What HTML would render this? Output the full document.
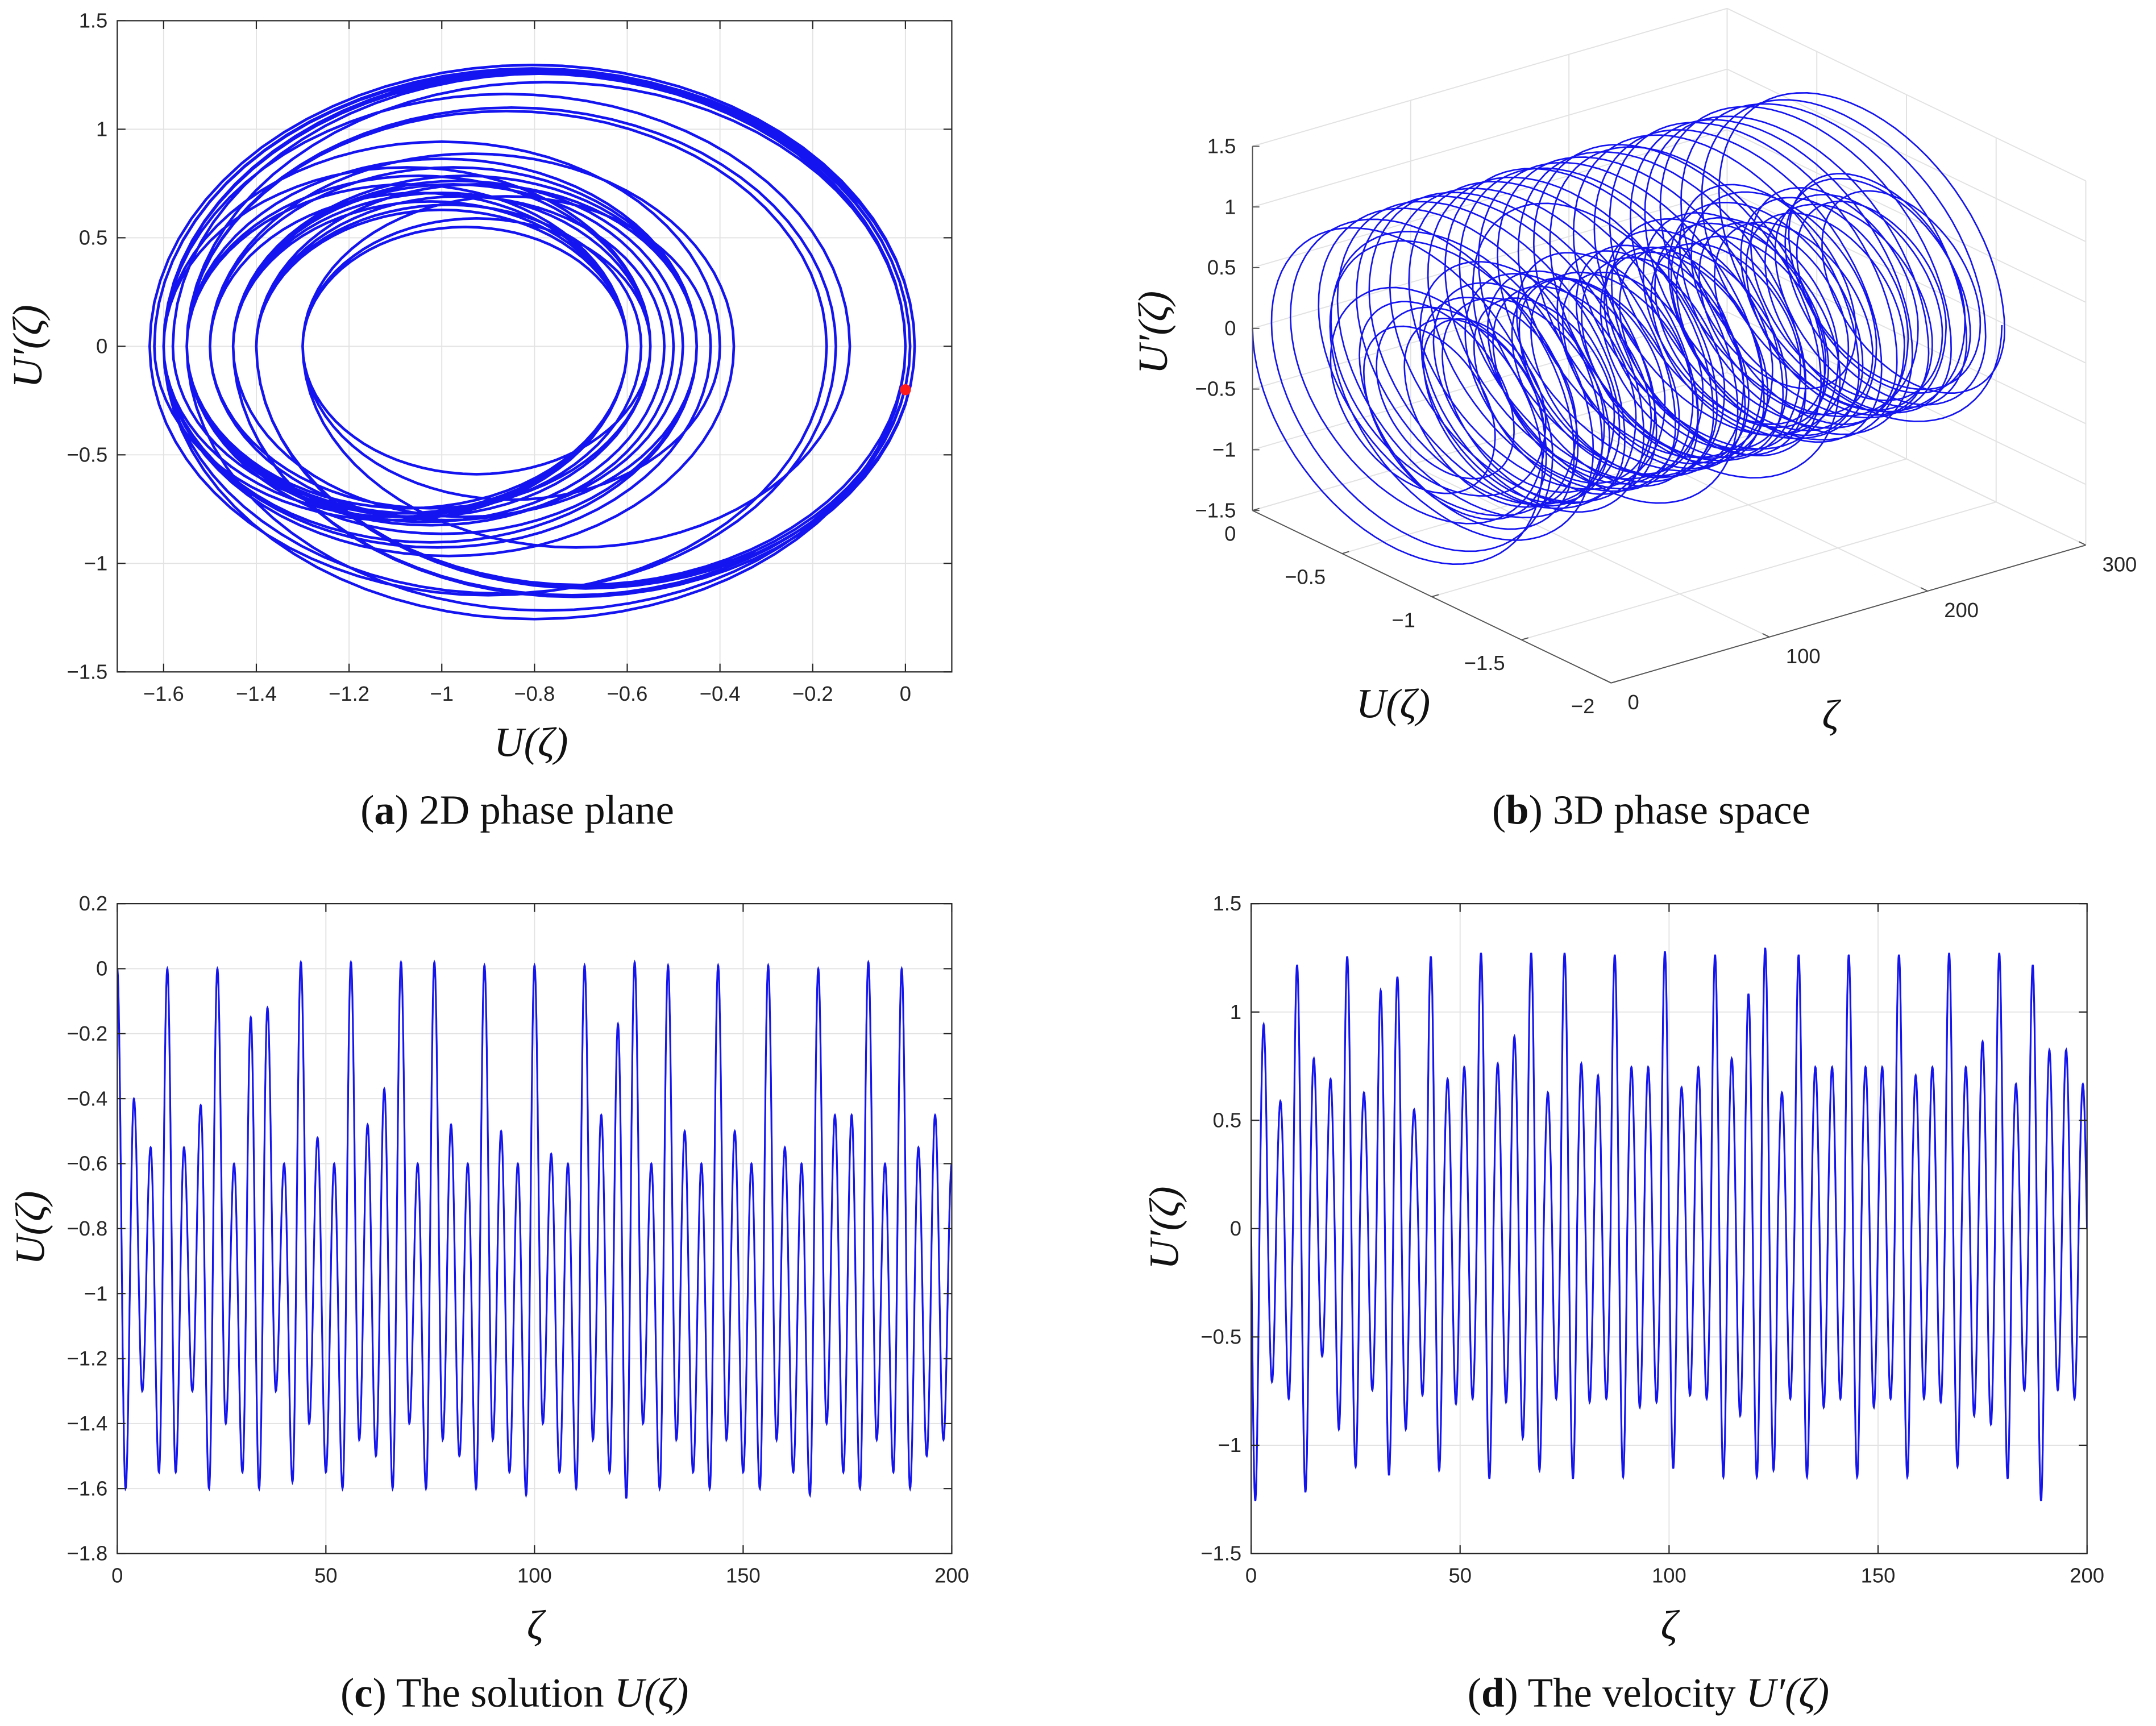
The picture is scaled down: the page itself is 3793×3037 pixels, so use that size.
<!DOCTYPE html>
<html><head><meta charset="utf-8">
<style>
html,body{margin:0;padding:0;background:#fff;}
svg{display:block;}
.tk{font-family:"Liberation Sans",sans-serif;font-size:15px;fill:#262626;}
.lb{font-family:"Liberation Serif",serif;font-style:italic;font-size:30px;fill:#111;}
.cap{font-family:"Liberation Serif",serif;font-size:30px;fill:#111;}
</style></head>
<body>
<svg id="fig" width="3793" height="3037" viewBox="0 0 1563 1251" preserveAspectRatio="none" xmlns="http://www.w3.org/2000/svg">
<defs>
<clipPath id="clipA"><rect x="85" y="15" width="605" height="472"/></clipPath>
<clipPath id="clipC"><rect x="85" y="655" width="605" height="471"/></clipPath>
<clipPath id="clipD"><rect x="907" y="655" width="606" height="471"/></clipPath>
</defs>
</svg>
<script>
// ---- data: extrema of U(zeta); spacing 2 units of zeta between extrema
const startValue = 0;
const uMaxima = [-0.4,-0.55,0.0,-0.55,-0.42,0.0,-0.6,-0.15,-0.12,-0.6,0.02,-0.52,-0.6,0.02,-0.48,-0.37,0.02,-0.6,0.02,-0.48,-0.6,0.01,-0.5,-0.6,0.01,-0.57,-0.6,0.01,-0.45,-0.17,0.02,-0.6,0.01,-0.5,-0.6,0.01,-0.5,-0.6,0.01,-0.55,-0.6,0.0,-0.45,-0.45,0.02,-0.6,0.0,-0.55,-0.45,
 -0.6,0.01,-0.5,-0.45,0.0,-0.55,-0.6,0.02,-0.4,-0.3,0.01,-0.6,0.0,-0.5,-0.6,0.02,-0.45,-0.55,0.01,-0.6,-0.5,0.0,-0.45,-0.6,0.01];
const uMinima = [-1.6,-1.3,-1.55,-1.55,-1.3,-1.6,-1.4,-1.55,-1.6,-1.3,-1.58,-1.4,-1.55,-1.6,-1.45,-1.5,-1.6,-1.4,-1.6,-1.45,-1.5,-1.6,-1.45,-1.55,-1.62,-1.4,-1.55,-1.6,-1.45,-1.55,-1.63,-1.4,-1.6,-1.45,-1.55,-1.6,-1.45,-1.55,-1.6,-1.45,-1.55,-1.62,-1.4,-1.55,-1.6,-1.45,-1.55,-1.6,-1.5,-1.45,
 -1.6,-1.45,-1.55,-1.62,-1.4,-1.5,-1.6,-1.45,-1.3,-1.58,-1.5,-1.6,-1.45,-1.55,-1.62,-1.4,-1.5,-1.6,-1.45,-1.55,-1.6,-1.45,-1.5,-1.6,-1.55];
const halfStep = 2;
const redPoint = [0, -0.2];
const aXTicks = [-1.6,-1.4,-1.2,-1,-0.8,-0.6,-0.4,-0.2,0];
const aYTicks = [-1.5,-1,-0.5,0,0.5,1,1.5];
const cXTicks = [0,50,100,150,200];
const cYTicks = [0.2,0,-0.2,-0.4,-0.6,-0.8,-1,-1.2,-1.4,-1.6,-1.8];
const dYTicks = [-1.5,-1,-0.5,0,0.5,1,1.5];
const bUTicks = [0,-0.5,-1,-1.5,-2];
const bZetaTicks = [0,100,200,300];
const bZTicks = [-1.5,-1,-0.5,0,0.5,1,1.5];

const NS="http://www.w3.org/2000/svg";
const svg=document.getElementById('fig');
function mk(tag,attrs,parent){const e=document.createElementNS(NS,tag);for(const k in attrs)e.setAttribute(k,attrs[k]);(parent||svg).appendChild(e);return e;}
function fmt(v){return (Math.round(v*10)/10).toString().replace('-','\u2212');}

// build extrema sequence
const ext=[startValue];
for(let i=0;i<uMinima.length;i++){ext.push(uMinima[i]); if(i<uMaxima.length) ext.push(uMaxima[i]);}
const tEnd=(ext.length-1)*halfStep;
const samples=[];
for(let t=0;t<=tEnd+1e-9;t+=0.05){
  let k=Math.min(Math.floor(t/halfStep),ext.length-2);
  const s=(t-k*halfStep)/halfStep, a=ext[k], b=ext[k+1];
  const u=a+(b-a)*(1-Math.cos(Math.PI*s))/2;
  const v=(b-a)*Math.PI/(2*halfStep)*Math.sin(Math.PI*s);
  samples.push([t,u,v]);
}

function grid2D(g,x0,x1,y0,y1,xs,ys,xt,yt,xFmt,yFmt){
  mk('rect',{x:x0,y:y0,width:x1-x0,height:y1-y0,fill:'#fff'},g);
  xt.forEach(v=>{const X=xs(v);const l=mk('line',{x1:X,x2:X,y1:y0,y2:y1,stroke:'#e3e3e3','stroke-width':0.8},g);});
  yt.forEach(v=>{const Y=ys(v);const l=mk('line',{x1:x0,x2:x1,y1:Y,y2:Y,stroke:'#e3e3e3','stroke-width':0.8},g);});
}
function frame2D(g,x0,x1,y0,y1,xs,ys,xt,yt,xFmt,yFmt){
  mk('rect',{x:x0,y:y0,width:x1-x0,height:y1-y0,fill:'none',stroke:'#262626','stroke-width':0.9},g);
  xt.forEach(v=>{const X=xs(v);mk('line',{x1:X,x2:X,y1:y1,y2:y1-6,stroke:'#262626','stroke-width':0.9},g);mk('line',{x1:X,x2:X,y1:y0,y2:y0+6,stroke:'#262626','stroke-width':0.9},g);
    const t=mk('text',{x:X,y:y1+21,'text-anchor':'middle',class:'tk'},g);t.textContent=xFmt(v);});
  yt.forEach(v=>{const Y=ys(v);mk('line',{x1:x0,x2:x0+6,y1:Y,y2:Y,stroke:'#262626','stroke-width':0.9},g);mk('line',{x1:x1,x2:x1-6,y1:Y,y2:Y,stroke:'#262626','stroke-width':0.9},g);
    const t=mk('text',{x:x0-7,y:Y+5,'text-anchor':'end',class:'tk'},g);t.textContent=yFmt(v);});
}
function label(g,x,y,txt,rot,name,cls){
  const t=mk('text',{x:x,y:y,'text-anchor':'middle',class:cls||'lb'},g);
  if(rot)t.setAttribute('transform','rotate(-90 '+x+' '+y+')');
  t.textContent=txt;return t;
}
function caption(g,x,y,letter,rest,math,name){
  const t=mk('text',{x:x,y:y,'text-anchor':'middle',class:'cap'},g);
  
  const a=mk('tspan',{},t);a.textContent='(';
  const b=mk('tspan',{'font-weight':'bold'},t);b.textContent=letter;
  const c=mk('tspan',{},t);c.textContent=') '+rest;
  if(math){const m=mk('tspan',{'font-style':'italic'},t);m.textContent=math;}
}

// ---------- Panel A
(function(){
  const g=mk('g',{});
  const x0=85,x1=690,y0=15,y1=487;
  const xs=v=>x0+(v+1.7)/1.8*(x1-x0), ys=v=>y1-(v+1.5)/3*(y1-y0);
  grid2D(g,x0,x1,y0,y1,xs,ys,aXTicks,aYTicks);
  let d='';samples.forEach((p,i)=>{if(p[0]>200)return;d+=(i?'L':'M')+xs(p[1]).toFixed(1)+' '+ys(p[2]).toFixed(1);});
  const pa=mk('path',{d:d,fill:'none',stroke:'#1414f0','stroke-width':1.9,'stroke-linejoin':'round','clip-path':'url(#clipA)'},g);
  
  const dot=mk('circle',{cx:xs(redPoint[0]),cy:ys(redPoint[1]),r:4,fill:'#ff1a1a'},g);
  
  frame2D(g,x0,x1,y0,y1,xs,ys,aXTicks,aYTicks,fmt,fmt);
  label(g,385,548,'U(ζ)',false,'x-axis-title');
  label(g,30,251,'U′(ζ)',true,'y-axis-title');
  caption(g,375,597,'a','2D phase plane','', 'caption-a');
})();

// ---------- Panel B (3D)
(function(){
  const g=mk('g',{});
  const P=(u,z,w)=>[908-130*u+1.147*z, 370-62.5*u-0.333*z-88*(w+1.5)];
  const L=(a,b,c,name)=>{const l=mk('line',{x1:a[0],y1:a[1],x2:b[0],y2:b[1],stroke:c||'#e2e2e2','stroke-width':0.8},g);};
  // back wall U=0
  bZetaTicks.forEach(z=>L(P(0,z,-1.5),P(0,z,1.5)));
  bZTicks.forEach(w=>L(P(0,0,w),P(0,300,w)));
  // back wall zeta=300
  bUTicks.forEach(u=>L(P(u,300,-1.5),P(u,300,1.5)));
  bZTicks.forEach(w=>L(P(0,300,w),P(-2,300,w)));
  // floor
  bUTicks.forEach(u=>L(P(u,0,-1.5),P(u,300,-1.5)));
  bZetaTicks.forEach(z=>L(P(0,z,-1.5),P(-2,z,-1.5)));
  let d='';samples.forEach((p,i)=>{const q=P(p[1],p[0],p[2]);d+=(i?'L':'M')+q[0].toFixed(1)+' '+q[1].toFixed(1);});
  const pa=mk('path',{d:d,fill:'none',stroke:'#1414f0','stroke-width':1.1,'stroke-linejoin':'round'},g);
  
  // axes
  L(P(0,0,-1.5),P(0,0,1.5),'#555','z-axis');
  L(P(0,0,-1.5),P(-2,0,-1.5),'#555','u-axis');
  L(P(-2,0,-1.5),P(-2,300,-1.5),'#555','zeta-axis');
  bZTicks.forEach(w=>{const q=P(0,0,w);mk('line',{x1:q[0],y1:q[1],x2:q[0]+5,y2:q[1],stroke:'#555','stroke-width':0.8},g);
    const t=mk('text',{x:q[0]-12,y:q[1]+5,'text-anchor':'end',class:'tk'},g);t.textContent=fmt(w);});
  bUTicks.forEach(u=>{const q=P(u,0,-1.5);mk('line',{x1:q[0],y1:q[1],x2:q[0]+5,y2:q[1]-1.5,stroke:'#555','stroke-width':0.8},g);
    const t=mk('text',{x:q[0]-12,y:q[1]+22,'text-anchor':'end',class:'tk'},g);t.textContent=fmt(u);});
  bZetaTicks.forEach(z=>{const q=P(-2,z,-1.5);mk('line',{x1:q[0],y1:q[1],x2:q[0]-5,y2:q[1]-2.5,stroke:'#555','stroke-width':0.8},g);
    const t=mk('text',{x:q[0]+12,y:q[1]+19,'text-anchor':'start',class:'tk'},g);t.textContent=z;});
  label(g,1010,520,'U(ζ)',false,'u-axis-title');
  label(g,1327,528,'ζ',false,'zeta-axis-title');
  label(g,846,241,'U′(ζ)',true,'z-axis-title');
  caption(g,1197,597,'b','3D phase space','', 'caption-b');
})();

// ---------- Panel C
(function(){
  const g=mk('g',{});
  const x0=85,x1=690,y0=655,y1=1126;
  const xs=v=>x0+v/200*(x1-x0), ys=v=>y1-(v+1.8)/2*(y1-y0);
  grid2D(g,x0,x1,y0,y1,xs,ys,cXTicks,cYTicks);
  let d='';samples.forEach((p,i)=>{if(p[0]>200.05)return;d+=(i?'L':'M')+xs(p[0]).toFixed(1)+' '+ys(p[1]).toFixed(1);});
  const pa=mk('path',{d:d,fill:'none',stroke:'#1414f0','stroke-width':1.3,'clip-path':'url(#clipC)'},g);
  
  frame2D(g,x0,x1,y0,y1,xs,ys,cXTicks,cYTicks,v=>String(v),fmt);
  label(g,388,1188,'ζ',false,'x-axis-title');
  label(g,32,890,'U(ζ)',true,'y-axis-title');
  caption(g,373,1237,'c','The solution ','U(ζ)','caption-c');
})();

// ---------- Panel D
(function(){
  const g=mk('g',{});
  const x0=907,x1=1513,y0=655,y1=1126;
  const xs=v=>x0+v/200*(x1-x0), ys=v=>y1-(v+1.5)/3*(y1-y0);
  grid2D(g,x0,x1,y0,y1,xs,ys,cXTicks,dYTicks);
  let d='';samples.forEach((p,i)=>{if(p[0]>200.05)return;d+=(i?'L':'M')+xs(p[0]).toFixed(1)+' '+ys(p[2]).toFixed(1);});
  const pa=mk('path',{d:d,fill:'none',stroke:'#1414f0','stroke-width':1.3,'clip-path':'url(#clipD)'},g);
  
  frame2D(g,x0,x1,y0,y1,xs,ys,cXTicks,dYTicks,v=>String(v),fmt);
  label(g,1210,1188,'ζ',false,'x-axis-title');
  label(g,854,890,'U′(ζ)',true,'y-axis-title');
  caption(g,1195,1237,'d','The velocity ','U′(ζ)','caption-d');
})();
</script>
</body></html>
